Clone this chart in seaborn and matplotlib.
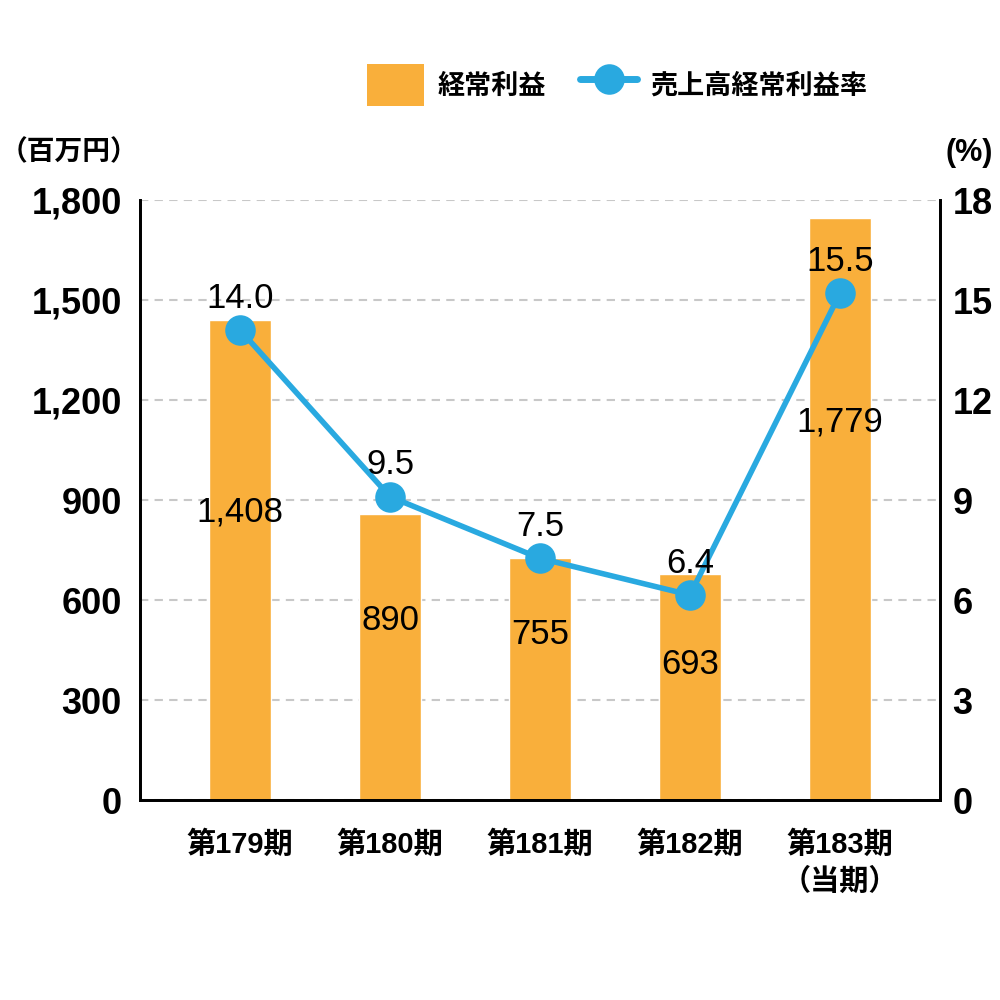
import numpy as np
import pandas as pd
import matplotlib
matplotlib.use("Agg")
import matplotlib.pyplot as plt
from matplotlib.patches import Patch
from matplotlib.lines import Line2D
import seaborn as sns

# ---- data ----
periods = ["第179期", "第180期", "第181期", "第182期", "第183期\n（当期）"]
profit = [1440, 858, 726, 678, 1746]          # 経常利益 (百万円), bar heights as drawn
profit_labels = ["1,408", "890", "755", "693", "1,779"]
rate = [14.1, 9.1, 7.25, 6.15, 15.2]           # 売上高経常利益率 (%), as drawn
rate_labels = ["14.0", "9.5", "7.5", "6.4", "15.5"]
left_ticks = [0, 300, 600, 900, 1200, 1500, 1800]
left_ticklabels = ["0", "300", "600", "900", "1,200", "1,500", "1,800"]
right_ticks = [0, 3, 6, 9, 12, 15, 18]
series_names = ["経常利益", "売上高経常利益率"]

# ---- style ----
BAR_C = "#F9AF3B"
LINE_C = "#29A9E0"
label_y = [864, 540, 495, 405, 1134]  # placement of bar value labels

sns.set_theme(style="white")
plt.rcParams["font.family"] = ["Liberation Sans", "Noto Sans CJK JP", "DejaVu Sans"]
plt.rcParams["text.color"] = "black"
plt.rcParams["xtick.color"] = "black"
plt.rcParams["ytick.color"] = "black"
plt.rcParams["xtick.labelcolor"] = "black"
plt.rcParams["ytick.labelcolor"] = "black"
NUM_FONT = ["Liberation Sans", "DejaVu Sans"]
CAT_FONT = ["Liberation Sans", "Noto Sans CJK JP", "DejaVu Sans"]
JP_FONT = ["Noto Sans CJK JP", "DejaVu Sans"]

df = pd.DataFrame({"period": periods, "profit": profit, "rate": rate})

fig = plt.figure(figsize=(10, 10), dpi=100)
ax = fig.add_axes([0.14, 0.2, 0.80, 0.60])
sns.barplot(data=df, x="period", y="profit", color=BAR_C, saturation=1,
            width=0.413, ax=ax, zorder=2)
ax.set_ylim(0, 1800)
ax.set_xlim(-0.667, 4.667)
ax.set_yticks(left_ticks)
ax.set_yticklabels(left_ticklabels, fontsize=26, fontweight="bold", color="black")
ax.yaxis.grid(True, linestyle=(0, (4, 3)), color="#c8c8c8", linewidth=1.5, zorder=0)
ax.set_axisbelow(True)
ax.set_xlabel("")
ax.set_ylabel("")
ax.set_xticks(range(len(periods)))
ax.set_xticklabels(periods, fontsize=21, fontweight="bold", family=CAT_FONT,
                   linespacing=1.4, color="black", va="top")
ax.tick_params(axis="x", length=0, pad=22)
ax.tick_params(axis="y", length=0, pad=13)
ax.spines["top"].set_visible(False)
for s in ["left", "right", "bottom"]:
    ax.spines[s].set_color("black")
    ax.spines[s].set_linewidth(2)

for i, (lab, yy) in enumerate(zip(profit_labels, label_y)):
    ax.text(i, yy, lab, ha="center", va="center", fontsize=25,
            family=NUM_FONT, color="black", zorder=5)

ax2 = ax.twinx()
sns.lineplot(x=np.arange(len(rate)), y=rate, ax=ax2, color=LINE_C, linewidth=4,
             marker="o", markersize=22, markeredgewidth=0, zorder=4)
ax2.set_ylim(0, 18)
ax2.set_xlim(-0.667, 4.667)
ax2.set_yticks(right_ticks)
ax2.set_yticklabels([str(t) for t in right_ticks], fontsize=26, fontweight="bold",
                    color="black")
ax2.tick_params(axis="y", length=0, pad=9)
ax2.grid(False)
ax2.spines["top"].set_visible(False)
for s in ["left", "right", "bottom"]:
    ax2.spines[s].set_color("black")
    ax2.spines[s].set_linewidth(2)

for i, (v, lab) in enumerate(zip(rate, rate_labels)):
    ax2.annotate(lab, (i, v), xytext=(0, 23), textcoords="offset points",
                 ha="center", va="center", fontsize=25, family=NUM_FONT,
                 color="black", zorder=6)

# units
fig.text(0.0, 0.848, "（百万円）", ha="left", va="center", fontsize=20,
         fontweight="bold", family=JP_FONT, color="black")
fig.text(0.993, 0.847, "(%)", ha="right", va="center", fontsize=22,
         fontweight="bold", family=NUM_FONT, color="black")

# legend
handles = [Patch(facecolor=BAR_C, edgecolor="none"),
           Line2D([0], [0], color=LINE_C, linewidth=5, marker="o",
                  markersize=22, markeredgewidth=0)]
leg = fig.legend(handles, series_names, loc="center left",
                 bbox_to_anchor=(0.343, 0.915), ncol=2, frameon=False,
                 prop={"family": JP_FONT, "weight": "bold", "size": 19.5},
                 handlelength=2.1, handleheight=2.0, handletextpad=0.5,
                 columnspacing=1.25)
for t in leg.get_texts():
    t.set_color("black")

fig.savefig("out.png", dpi=100)
